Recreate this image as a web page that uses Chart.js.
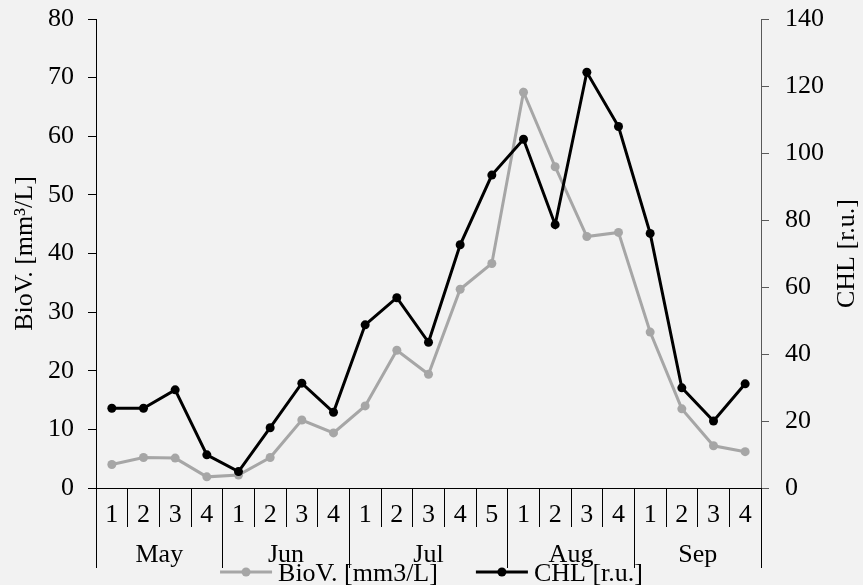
<!DOCTYPE html>
<html>
<head>
<meta charset="utf-8">
<script src="https://cdn.jsdelivr.net/npm/chart.js@4.4.1/dist/chart.umd.min.js"></script>
<style>
html,body{margin:0;padding:0;background:#f2f2f2;}
canvas{display:block;}
</style>
</head>
<body>
<canvas id="c" width="863" height="585"></canvas>
<script>
// ---- data ----
const weekLabels = ['1','2','3','4','1','2','3','4','1','2','3','4','5','1','2','3','4','1','2','3','4'];
const monthNames = ['May','Jun','Jul','Aug','Sep'];
const monthWeeks = [4,4,5,4,4];
const bioV = [4.0,5.2,5.1,1.9,2.2,5.2,11.6,9.4,14.0,23.5,19.4,33.9,38.3,67.5,54.8,42.9,43.6,26.6,13.5,7.2,6.2];
const chl  = [23.8,23.8,29.3,9.9,4.9,18.0,31.3,22.6,48.7,56.8,43.5,72.6,93.4,104.1,78.6,124.1,107.9,76.0,29.9,20.0,31.1];
const leftTicks = [0,10,20,30,40,50,60,70,80];
const rightTicks = [0,20,40,60,80,100,120,140];
const bioLabel = 'BioV. [mm3/L]';
const chlLabel = 'CHL [r.u.]';
const leftTitle = 'BioV. [mm\u00B3/L]';
const rightTitle = 'CHL [r.u.]';

const FONT = 'Liberation Serif';
const GRAY = '#a6a6a6';

Chart.defaults.font.family = FONT;
Chart.defaults.font.size = 26;
Chart.defaults.color = '#000';

function align(px){ return Math.round(px - 0.5) + 0.5; }

const bgPlugin = {
  id: 'bg',
  beforeDraw(chart){
    const ctx = chart.ctx;
    ctx.save();
    ctx.fillStyle = '#f2f2f2';
    ctx.fillRect(0,0,chart.width,chart.height);
    ctx.restore();
  }
};

const decoPlugin = {
  id: 'deco',
  afterDraw(chart){
    const ctx = chart.ctx;
    const x = chart.scales.x;
    const ca = chart.chartArea;
    const step = x.getPixelForValue(1) - x.getPixelForValue(0);
    const bpx = v => x.getPixelForValue(0) + (v) * step;
    ctx.save();
    // month separators (long)
    ctx.strokeStyle = '#000';
    ctx.lineWidth = 1;
    const bounds = [-0.5];
    let acc = 0;
    monthWeeks.forEach(n => { acc += n; bounds.push(acc - 0.5); });
    bounds.forEach(b => {
      const px = align(bpx(b));
      ctx.beginPath();
      ctx.moveTo(px, x.top);
      ctx.lineTo(px, x.top + 80);
      ctx.stroke();
    });
    // month labels
    ctx.fillStyle = '#000';
    ctx.font = '26px "' + FONT + '"';
    ctx.textAlign = 'center';
    ctx.textBaseline = 'alphabetic';
    acc = 0;
    monthNames.forEach((m, i) => {
      const n = monthWeeks[i];
      const c = (x.getPixelForValue(acc) + x.getPixelForValue(acc + n - 1)) / 2;
      ctx.fillText(m, c, x.top + 74);
      acc += n;
    });
    // right axis title (reads bottom to top)
    ctx.save();
    ctx.translate(847, (ca.top + ca.bottom) / 2);
    ctx.rotate(-Math.PI / 2);
    ctx.textAlign = 'center';
    ctx.textBaseline = 'middle';
    ctx.fillText(rightTitle, 0, 0);
    ctx.restore();
    // legend
    const items = chart.data.datasets.map(d => ({text: d.label, color: d.borderColor}));
    const sampleW = 52, gapText = 6, gapItem = 38;
    const widths = items.map(it => ctx.measureText(it.text).width);
    let total = 0;
    items.forEach((it, i) => { total += sampleW + gapText + widths[i]; if (i) total += gapItem; });
    let lx = chart.width / 2 - total / 2;
    const ly = 572;
    items.forEach((it, i) => {
      ctx.strokeStyle = it.color;
      ctx.fillStyle = it.color;
      ctx.lineWidth = 3;
      ctx.beginPath();
      ctx.moveTo(lx, ly);
      ctx.lineTo(lx + sampleW, ly);
      ctx.stroke();
      ctx.beginPath();
      ctx.arc(lx + sampleW / 2, ly, 4.5, 0, Math.PI * 2);
      ctx.fill();
      ctx.fillStyle = '#000';
      ctx.textAlign = 'left';
      ctx.textBaseline = 'alphabetic';
      ctx.fillText(it.text, lx + sampleW + gapText, 581);
      lx += sampleW + gapText + widths[i] + gapItem;
    });
    ctx.restore();
  }
};

function fixV(width){
  return function(s){ s.width = width; s.paddingTop = 0; s.paddingBottom = 0; };
}

new Chart(document.getElementById('c'), {
  type: 'line',
  data: {
    labels: weekLabels,
    datasets: [
      {
        label: bioLabel,
        data: bioV,
        yAxisID: 'y',
        borderColor: GRAY,
        backgroundColor: GRAY,
        pointBackgroundColor: GRAY,
        pointBorderColor: GRAY,
        borderWidth: 3,
        pointRadius: 4.5,
        pointBorderWidth: 0,
        tension: 0,
        order: 2
      },
      {
        label: chlLabel,
        data: chl,
        yAxisID: 'y1',
        borderColor: '#000',
        backgroundColor: '#000',
        pointBackgroundColor: '#000',
        pointBorderColor: '#000',
        borderWidth: 3,
        pointRadius: 4.5,
        pointBorderWidth: 0,
        tension: 0,
        order: 1
      }
    ]
  },
  options: {
    responsive: false,
    animation: false,
    devicePixelRatio: 1,
    layout: { padding: { top: 19, left: 0, right: 0, bottom: 0 } },
    plugins: {
      legend: { display: false },
      tooltip: { enabled: false }
    },
    scales: {
      x: {
        type: 'category',
        offset: true,
        grid: {
          offset: true,
          drawOnChartArea: false,
          drawTicks: true,
          tickLength: 39,
          color: '#000',
          lineWidth: 1
        },
        border: { display: true, color: '#000', width: 1 },
        ticks: {
          autoSkip: false,
          maxRotation: 0,
          minRotation: 0,
          padding: -27,
          color: '#000',
          font: { size: 26, family: FONT }
        },
        afterFit(s){ s.height = 97; s.paddingLeft = 0; s.paddingRight = 0; }
      },
      y: {
        type: 'linear',
        position: 'left',
        min: 0,
        max: 80,
        afterBuildTicks(s){ s.ticks = leftTicks.map(v => ({value: v})); },
        grid: { drawOnChartArea: false, tickLength: 8, color: '#000' },
        border: { display: true, color: '#000', width: 1 },
        ticks: { padding: 14, color: '#000', font: { size: 26, family: FONT } },
        title: {
          display: true,
          text: leftTitle,
          color: '#000',
          font: { size: 26, family: FONT },
          padding: { top: 10, bottom: 0 }
        },
        afterFit: fixV(96)
      },
      y1: {
        type: 'linear',
        position: 'right',
        min: 0,
        max: 140,
        afterBuildTicks(s){ s.ticks = rightTicks.map(v => ({value: v})); },
        grid: { drawOnChartArea: false, tickLength: 8, color: '#595959' },
        border: { display: true, color: '#595959', width: 1 },
        ticks: { padding: 16, color: '#000', font: { size: 26, family: FONT } },
        afterFit: fixV(102)
      }
    }
  },
  plugins: [bgPlugin, decoPlugin]
});
</script>
</body>
</html>
